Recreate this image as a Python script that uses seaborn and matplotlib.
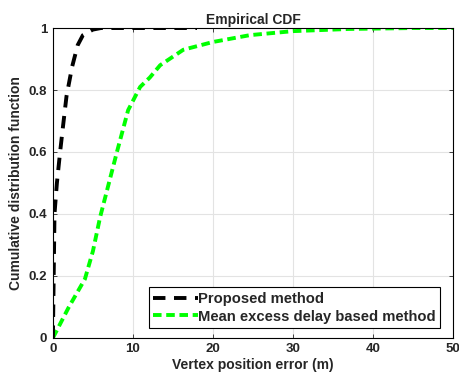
import matplotlib
matplotlib.use('Agg')
import matplotlib.pyplot as plt
import seaborn as sns
import pandas as pd

proposed_err = [0, 0.1, 0.2, 0.5, 0.9, 1.25, 1.7, 2.4, 3.1, 3.75, 5, 6, 18]
proposed_cdf = [0, 0.2, 0.4, 0.5, 0.6, 0.68, 0.78, 0.875, 0.945, 0.977, 0.995, 1.0, 1.0]

med_err = [0, 2, 4, 5, 5.9, 7, 8, 9.4, 10.9, 12.1, 13.4, 16.3, 20, 24.6, 30, 37, 45, 50]
med_cdf = [0, 0.1, 0.19, 0.28, 0.39, 0.5, 0.6, 0.735, 0.81, 0.84, 0.88, 0.93, 0.955, 0.977, 0.99, 0.997, 1.0, 1.0]

labels = ['Proposed method', 'Mean excess delay based method']


def main():
    sns.set_style('white')
    plt.rcParams['font.family'] = ['Liberation Sans', 'DejaVu Sans']
    plt.rcParams['font.weight'] = 'bold'

    fig = plt.figure(figsize=(4.6, 3.84), dpi=100)
    ax = fig.add_axes([0.115, 0.12, 0.87, 0.807])

    df1 = pd.DataFrame({'x': proposed_err, 'y': proposed_cdf})
    df2 = pd.DataFrame({'x': med_err, 'y': med_cdf})
    sns.lineplot(x='x', y='y', data=df1, ax=ax, color='black', lw=2.8,
                 label=labels[0], zorder=3)
    sns.lineplot(x='x', y='y', data=df2, ax=ax, color='#00ff00', lw=2.8,
                 label=labels[1], zorder=2)
    ax.lines[0].set_dashes((3.2, 2.2))
    ax.lines[1].set_dashes((2.2, 1.2))

    ax.set_xlim(0, 50)
    ax.set_ylim(0, 1)
    ax.set_xticks([0, 10, 20, 30, 40, 50])
    ax.set_yticks([0, 0.2, 0.4, 0.6, 0.8, 1])
    ax.set_yticklabels(['0', '0.2', '0.4', '0.6', '0.8', '1'])
    ax.grid(True, color='#e3e3e3', lw=0.8)
    ax.tick_params(direction='in', length=3, labelsize=9.5, width=0.6,
                   top=True, right=True, bottom=True, left=True, pad=4)
    for s in ax.spines.values():
        s.set_color('black')
        s.set_linewidth(0.8)

    ax.set_xlabel('Vertex position error (m)', fontsize=10, fontweight='bold',
                  labelpad=2)
    ax.set_ylabel('Cumulative distribution function', fontsize=10,
                  fontweight='bold', labelpad=4)
    ax.set_title('Empirical CDF', fontsize=10, fontweight='bold', pad=3)

    leg = ax.legend(loc='lower right', bbox_to_anchor=(0.968, 0.032),
                    fontsize=10.6, fancybox=False, framealpha=1,
                    edgecolor='black', handlelength=3.0, handletextpad=0.05,
                    borderpad=0.3, labelspacing=0.25, borderaxespad=0)
    leg.get_frame().set_linewidth(0.8)

    fig.savefig('out.png', dpi=100)
    plt.close()


if __name__ == '__main__':
    main()
